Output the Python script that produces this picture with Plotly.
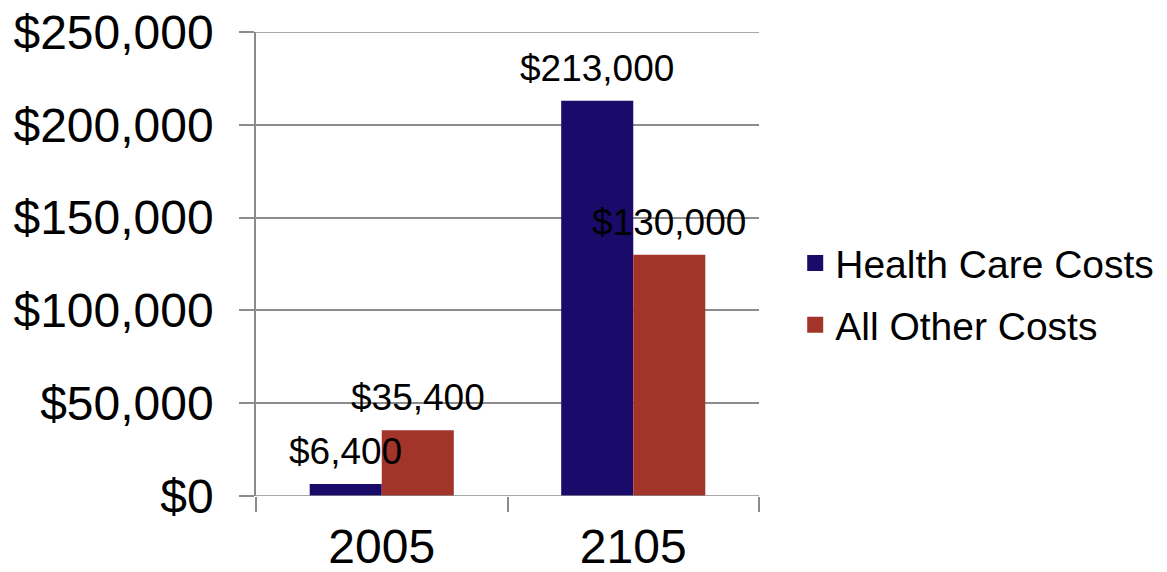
import plotly.graph_objects as go

categories = ["2005", "2105"]
health_costs = [6400, 213000]
other_costs = [35400, 130000]
series_names = ["Health Care Costs", "All Other Costs"]
colors = ["#1a0a69", "#a2342a"]
y_tick_vals = [0, 50000, 100000, 150000, 200000, 250000]
y_tick_text = ["$0", "$50,000", "$100,000", "$150,000", "$200,000", "$250,000"]

FONT = "Liberation Sans, Arial, sans-serif"

fig = go.Figure()
series = [health_costs, other_costs]
for name, vals, col in zip(series_names, series, colors):
    fig.add_trace(go.Bar(x=categories, y=vals, name=name, marker_color=col,
                         marker_line_width=0, showlegend=False))
    # legend proxy with larger square symbol
    fig.add_trace(go.Scatter(x=[None], y=[None], mode="markers", name=name,
                             marker=dict(symbol="square", size=16, color=col),
                             legendgroup=name, showlegend=True))

# data labels (x given as category index)
offsets = [-36, 36]
for vals, xs in zip(series, offsets):
    for i, v in enumerate(vals):
        fig.add_annotation(x=i, y=v, xref="x", yref="y", text=f"${v:,}",
                           showarrow=False, xshift=xs, yshift=10, yanchor="bottom",
                           font=dict(family=FONT, size=37, color="black"))

fig.update_layout(
    width=1167, height=572,
    margin=dict(l=248, r=416, t=24, b=84, autoexpand=False),
    paper_bgcolor="white", plot_bgcolor="white",
    barmode="group", bargap=0.427, bargroupgap=0,
    font=dict(family=FONT, color="black"),
    legend=dict(x=1.072, xanchor="left", y=0.435, yanchor="middle",
                font=dict(family=FONT, size=39, color="black"),
                traceorder="grouped", tracegroupgap=8,
                bgcolor="rgba(0,0,0,0)"),
    xaxis=dict(type="category", range=[-0.5, 1.5], showgrid=False,
               showline=False, ticks="outside", tickson="boundaries",
               ticklen=15, tickcolor="#8c8c8c", tickwidth=1.5,
               ticklabelstandoff=18, ticklabeloverflow="allow",
               tickfont=dict(family=FONT, size=48, color="black")),
    yaxis=dict(range=[0, 250000], tickvals=y_tick_vals, ticktext=y_tick_text,
               showgrid=True, gridcolor="#8c8c8c", gridwidth=1.5,
               showline=True, linecolor="#8c8c8c", linewidth=1.5,
               zeroline=False, ticklabeloverflow="allow",
               ticks="outside", ticklen=15, tickcolor="#8c8c8c", tickwidth=1.5,
               ticklabelstandoff=16,
               tickfont=dict(family=FONT, size=48, color="black")),
)
# bottom axis line and top gridline (plotly drops gridlines at the plot edges)
for yv in (y_tick_vals[0], y_tick_vals[-1]):
    fig.add_shape(type="line", xref="paper", yref="y", x0=0, x1=1, y0=yv, y1=yv,
                  line=dict(color="#8c8c8c", width=1.5))

fig.write_html("out.html")
